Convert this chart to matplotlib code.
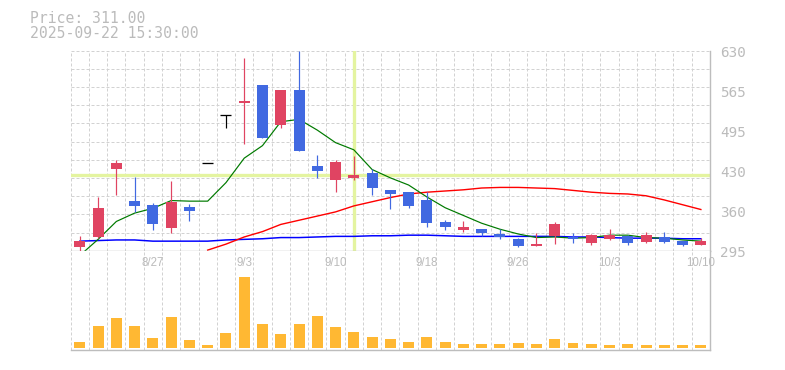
import matplotlib
matplotlib.use('Agg')
import matplotlib.pyplot as plt
import numpy as np
from matplotlib.transforms import blended_transform_factory, ScaledTranslation

# ---------------- data ----------------
dates = ['8/21', '8/22', '8/25', '8/26', '8/27', '8/28', '8/29', '9/1', '9/2', '9/3',
         '9/4', '9/5', '9/8', '9/9', '9/10', '9/11', '9/12', '9/16', '9/17', '9/18',
         '9/19', '9/22', '9/24', '9/25', '9/26', '9/29', '9/30', '10/1', '10/2', '10/3',
         '10/6', '10/7', '10/8', '10/9', '10/10']
opens = [302, 318, 432, 379, 372, 333, 368, 442, 522, 542,
         573, 506, 564, 437, 414, 417, 425, 396, 393, 380,
         343, 330, 331, 323, 315, 303, 320, 318, 308, 315,
         320, 310, 318, 311, 305]
highs = [320, 385, 447, 418, 375, 412, 373, 442, 522, 618,
         573, 564, 630, 455, 447, 454, 432, 397, 394, 393,
         346, 345, 332, 331, 317, 324, 343, 325, 323, 331,
         321, 326, 326, 312, 316]
lows = [295, 317, 388, 359, 330, 325, 345, 442, 501, 474,
        483, 501, 462, 416, 394, 414, 388, 365, 367, 335,
        330, 327, 320, 315, 301, 303, 306, 308, 305, 313,
        305, 308, 308, 303, 305]
closes = [311, 366, 442, 370, 340, 377, 362, 442, 522, 546,
          483, 564, 462, 429, 444, 422, 400, 390, 370, 342,
          334, 335, 325, 318, 303, 306, 340, 315, 322, 321,
          308, 321, 310, 305, 311]
volumes = [17, 65, 89, 65, 29, 92, 23, 8, 44, 212,
           71, 41, 71, 95, 62, 47, 32, 26, 17, 32,
           17, 11, 11, 11, 14, 11, 26, 14, 11, 7,
           11, 8, 8, 8, 8]  # thousand shares
ma_short = [287, 314, 344, 358, 366, 379, 378, 378, 409, 450,
            471, 511, 515, 497, 476, 464, 431, 417, 405, 385,
            367, 354, 341, 331, 323, 317, 318, 316, 317, 321,
            321, 317, 316, 313, 311]
ma_mid = [np.nan] * 7 + [296, 306, 318,
                          327, 339, 346, 353, 360, 370, 377, 384, 390, 393,
                          395, 397, 400, 401, 401, 400, 399, 396, 393, 391,
                          390, 387, 380, 372, 364]
ma_long = [311, 312, 313, 313, 311, 311, 311, 311, 313, 314,
           315, 317, 317, 318, 319, 319, 320, 320, 321, 321,
           320, 319, 319, 319, 319, 319, 319, 318, 318, 317,
           316, 316, 316, 315, 315]
price_labels = ['630', '565', '495', '430', '360', '295']
tick_dates = ['8/27', '9/3', '9/10', '9/18', '9/26', '10/3', '10/10']
header_price = 'Price: 311.00'
header_time = '2025-09-22 15:30:00'
cross_index = 15
cross_price = 421
y_min, y_max = 295, 630

# ---------------- style ----------------
C_UP = '#e04462'
C_DOWN = '#4169e1'
C_EVEN = '#000000'
C_VOL = '#ffb833'
C_GRID = '#d2d2d2'
C_AXIS = '#bdbdbd'
C_TEXT = '#bbbbbb'
C_CROSS = '#e4f4a0'
PX = 0.72  # one pixel in points at dpi 100

W, H = 785, 370
fig = plt.figure(figsize=(W / 100, H / 100), dpi=100)
left_px, right_px = 70.7, 710.0
p_top, p_bot = 50.7, 250.7
v_bot = 350.3
ax = fig.add_axes([left_px / W, 1 - p_bot / H, (right_px - left_px) / W, (p_bot - p_top) / H])
axv = fig.add_axes([left_px / W, 1 - v_bot / H, (right_px - left_px) / W, (v_bot - p_bot) / H])

n = len(dates)
x = np.arange(n)
for a in (ax, axv):
    a.set_xlim(-0.5, n - 0.5)
    a.set_xticks([])
    a.set_yticks([])
    a.set_facecolor('white')
    for s in ('top', 'left'):
        a.spines[s].set_visible(False)
    for s in ('right', 'bottom'):
        a.spines[s].set_color(C_AXIS)
        a.spines[s].set_linewidth(1.4 * PX)
    for k in range(n):
        a.axvline(k - 0.5, color=C_GRID, lw=PX, dashes=(3, 2), zorder=0)

ax.set_ylim(y_min, y_max)
for gy in np.linspace(y_min, y_max, 12)[1:]:
    ax.axhline(gy, color=C_GRID, lw=PX, dashes=(3, 2), zorder=0)

# crosshair
ax.axvline(cross_index, ymin=0.005, ymax=0.995, color=C_CROSS, lw=3.3 * PX, zorder=1)
ax.axhline(cross_price, color=C_CROSS, lw=3.3 * PX, zorder=1)

# moving averages
ax.plot(x, ma_long, color='#0000ff', lw=1.5 * PX, zorder=2, clip_on=False)
ax.plot(x, ma_mid, color='#ff0000', lw=1.4 * PX, zorder=2, clip_on=False)
ax.plot(x, ma_short, color='#007a00', lw=1.2 * PX, zorder=2, clip_on=False)

# candles
bw = 0.6
for i in range(n):
    o, h, l, c = opens[i], highs[i], lows[i], closes[i]
    col = C_UP if c > o else (C_DOWN if c < o else C_EVEN)
    ax.vlines(i, l, h, color=col, lw=1.2 * PX, zorder=3, clip_on=False)
    if c == o:
        ax.hlines(o, i - bw / 2, i + bw / 2, color=col, lw=1.3 * PX, zorder=4)
    else:
        ax.bar(i, abs(c - o), bottom=min(o, c), width=bw, color=col,
               edgecolor='none', zorder=4)

# volume
axv.bar(x, volumes, width=bw, color=C_VOL, edgecolor='none', zorder=2)
vmax = max(volumes)
axv.set_ylim(-0.0368 * vmax, 1.373 * vmax)

# price labels on the right
off = ScaledTranslation(0, -2.5 / 100, fig.dpi_scale_trans)
trp = blended_transform_factory(ax.transAxes, ax.transData) + off
lab_x = (720 - left_px) / (right_px - left_px)
for v, s in zip(np.linspace(y_max, y_min, len(price_labels)), price_labels):
    ax.text(lab_x, v, s, transform=trp, ha='left', va='center',
            family='DejaVu Sans Mono', fontsize=10.3, color=C_TEXT, clip_on=False)

# date labels
trd = blended_transform_factory(axv.transData, axv.transAxes)
for lbl in tick_dates:
    i = dates.index(lbl)
    axv.text(i, (v_bot - 262.5) / (v_bot - p_bot), lbl, transform=trd, ha='center',
             va='center', family='Liberation Sans', fontsize=8.3, color=C_TEXT, zorder=3)

# header
fig.text(30 / W, 1 - 22.7 / H, header_price, family='DejaVu Sans Mono', fontsize=10.6,
         color=C_TEXT, ha='left', va='baseline')
fig.text(30 / W, 1 - 37.5 / H, header_time, family='DejaVu Sans Mono', fontsize=10.6,
         color=C_TEXT, ha='left', va='baseline')

fig.savefig('out.png', dpi=100, facecolor='white')
